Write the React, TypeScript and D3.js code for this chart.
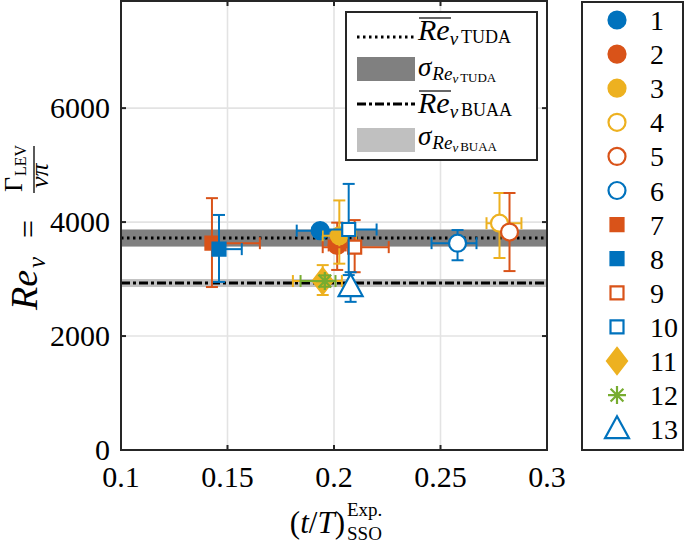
import React from 'react';
import * as d3 from 'd3';

// ---------- data ----------
const seriesLabels = ['1', '2', '3', '4', '5', '6', '7', '8', '9', '10', '11', '12', '13'];
const xVals = [0.1935, 0.2015, 0.2025, 0.2777, 0.2824, 0.258, 0.1427, 0.146, 0.2097, 0.2069, 0.1947, 0.1957, 0.2078];
const yVals = [3850, 3590, 3760, 3980, 3825, 3630, 3630, 3525, 3560, 3870, 2965, 2965, 2860];
const xErrLo = [0.011, 0.004, 0.0078, 0.0061, 0.002, 0.0122, 0.002, 0.002, 0.015, 0.013, 0.014, 0.0114, 0.002];
const xErrHi = [0.011, 0.004, 0.0078, 0.0103, 0.002, 0.0089, 0.0225, 0.0107, 0.016, 0.0131, 0.009, 0.005, 0.002];
const yErrLo = [100, 430, 490, 610, 685, 300, 770, 575, 440, 800, 245, 100, 260];
const yErrHi = [100, 400, 620, 530, 685, 230, 790, 600, 475, 800, 280, 100, 260];
const seriesColors = ['#0072BD', '#D95319', '#EDB120', '#EDB120', '#D95319', '#0072BD', '#D95319', '#0072BD', '#D95319', '#0072BD', '#EDB120', '#77AC30', '#0072BD'];
const seriesShapes = ['o', 'o', 'o', 'o', 'o', 'o', 's', 's', 's', 's', 'd', '*', '^'];
const seriesFilled = [true, true, true, false, false, false, true, true, false, false, true, true, false];

const xTicks = [0.1, 0.15, 0.2, 0.25, 0.3];
const xTickLabels = ['0.1', '0.15', '0.2', '0.25', '0.3'];
const yTicks = [0, 2000, 4000, 6000];
const yTickLabels = ['0', '2000', '4000', '6000'];

const tudaMean = 3720;
const tudaStd = 150;
const buaaMean = 2930;
const buaaStd = 70;

// ---------- layout ----------
const W = 685;
const H = 543;
const x = d3.scaleLinear().domain([0.1, 0.3]).range([121, 547]);
const y = d3.scaleLinear().domain([0, 7880]).range([450, 1]);
const AX = '#262626';
const SERIF = { fontFamily: 'Liberation Serif' };

function markerPath(shape: string): string {
  switch (shape) {
    case 'o':
      return d3.symbol().type(d3.symbolCircle).size(Math.PI * 8.5 * 8.5)()!;
    case 's':
      return 'M-6.5,-6.5H6.5V6.5H-6.5Z';
    case 'd':
      return 'M0,-13L10,0L0,13L-10,0Z';
    case '^':
      return 'M0,-13L12,9L-12,9Z';
    case '*':
      return 'M0,-9V9M-9,0H9M-6.4,-6.4L6.4,6.4M-6.4,6.4L6.4,-6.4';
    default:
      return '';
  }
}

function Marker({ i, cx, cy }: { i: number; cx: number; cy: number }) {
  const c = seriesColors[i];
  const shape = seriesShapes[i];
  const fill = shape === '*' ? 'none' : seriesFilled[i] ? c : '#fff';
  return (
    <path
      d={markerPath(shape)}
      transform={`translate(${cx},${cy})`}
      fill={fill}
      stroke={c}
      strokeWidth={2.2}
      strokeLinejoin="miter"
    />
  );
}

function ErrorBar({ i }: { i: number }) {
  const c = seriesColors[i];
  const cx = x(xVals[i]);
  const cy = y(yVals[i]);
  const y0 = y(yVals[i] - yErrLo[i]);
  const y1 = y(yVals[i] + yErrHi[i]);
  const x0 = x(xVals[i] - xErrLo[i]);
  const x1 = x(xVals[i] + xErrHi[i]);
  const cap = 6;
  return (
    <g stroke={c} strokeWidth={2} fill="none">
      <line x1={cx} x2={cx} y1={y0} y2={y1} />
      <line x1={cx - cap} x2={cx + cap} y1={y0} y2={y0} />
      <line x1={cx - cap} x2={cx + cap} y1={y1} y2={y1} />
      <line x1={x0} x2={x1} y1={cy} y2={cy} />
      <line x1={x0} x2={x0} y1={cy - cap} y2={cy + cap} />
      <line x1={x1} x2={x1} y1={cy - cap} y2={cy + cap} />
    </g>
  );
}

function MeanLabel({ by, tag }: { by: number; tag: string }) {
  return (
    <g>
      <line x1={419} x2={451} y1={by - 22} y2={by - 22} stroke="#000" strokeWidth={1.2} />
      <text x={418} y={by} fill="#000">
        <tspan fontSize={30} fontStyle="italic">Re</tspan>
        <tspan fontSize={19} fontStyle="italic" dy={5}>v</tspan>
        <tspan fontSize={18} dx={3} dy={-2}>{tag}</tspan>
      </text>
    </g>
  );
}

function SigmaLabel({ by, tag }: { by: number; tag: string }) {
  return (
    <text x={418} y={by} fill="#000">
      <tspan fontSize={27} fontStyle="italic">σ</tspan>
      <tspan fontSize={19} fontStyle="italic" dx={1} dy={4}>Re</tspan>
      <tspan fontSize={13} fontStyle="italic" dy={3}>v</tspan>
      <tspan fontSize={13} dx={2} dy={-1}>{tag}</tspan>
    </text>
  );
}

export default function App() {
  const [xl, xr] = x.range();
  const [yb, yt] = y.range();
  const dotDash = '2.5,3.5';
  const dashDot = '9,3,3,3';
  return (
    <svg
      width={W}
      height={H}
      viewBox={`0 0 ${W} ${H}`}
      style={{ position: 'absolute', left: 0, top: 0, display: 'block', background: '#fff' }}
    >
      <rect x={0} y={0} width={W} height={H} fill="#fff" />
      {/* grid */}
      <g stroke="#e3e3e3" strokeWidth={1.6}>
        {xTicks.slice(1, -1).map((t) => (
          <line key={'gx' + t} x1={x(t)} x2={x(t)} y1={yb} y2={yt} />
        ))}
        {yTicks.slice(1).map((t) => (
          <line key={'gy' + t} x1={xl} x2={xr} y1={y(t)} y2={y(t)} />
        ))}
      </g>
      {/* bands */}
      <rect x={xl} width={xr - xl} y={y(tudaMean + tudaStd)} height={y(tudaMean - tudaStd) - y(tudaMean + tudaStd)} fill="#808080" />
      <rect x={xl} width={xr - xl} y={y(buaaMean + buaaStd)} height={y(buaaMean - buaaStd) - y(buaaMean + buaaStd)} fill="#c0c0c0" />
      <line x1={xl} x2={xr} y1={y(tudaMean)} y2={y(tudaMean)} stroke="#000" strokeWidth={3} strokeDasharray={dotDash} />
      <line x1={xl} x2={xr} y1={y(buaaMean)} y2={y(buaaMean)} stroke="#000" strokeWidth={3} strokeDasharray={dashDot} />
      {/* data */}
      {seriesLabels.map((_, i) => (
        <g key={'s' + i}>
          <ErrorBar i={i} />
          <Marker i={i} cx={x(xVals[i])} cy={y(yVals[i])} />
        </g>
      ))}
      {/* axes box & ticks */}
      <g stroke={AX} strokeWidth={2} fill="none">
        <rect x={xl} y={yt} width={xr - xl} height={yb - yt} />
        {xTicks.map((t) => (
          <g key={'tx' + t}>
            <line x1={x(t)} x2={x(t)} y1={yb} y2={yb - 5} />
            <line x1={x(t)} x2={x(t)} y1={yt} y2={yt + 5} />
          </g>
        ))}
        {yTicks.map((t) => (
          <g key={'ty' + t}>
            <line x1={xl} x2={xl + 5} y1={y(t)} y2={y(t)} />
            <line x1={xr} x2={xr - 5} y1={y(t)} y2={y(t)} />
          </g>
        ))}
      </g>
      <g fontSize={30} fill="#000" style={SERIF}>
        {xTicks.map((t, k) => (
          <text key={'lx' + t} x={x(t)} y={487} textAnchor="middle">
            {xTickLabels[k]}
          </text>
        ))}
        {yTicks.map((t, k) => (
          <text key={'ly' + t} x={110} y={y(t) + 10} textAnchor="end">
            {yTickLabels[k]}
          </text>
        ))}
      </g>
      {/* x label */}
      <g fill="#000" style={SERIF}>
        <text x={345} y={533} fontSize={31} textAnchor="end">
          (<tspan fontStyle="italic">t</tspan>/<tspan fontStyle="italic">T</tspan>)
        </text>
        <text x={347} y={516} fontSize={19}>Exp.</text>
        <text x={347} y={540} fontSize={19}>SSO</text>
      </g>
      {/* y label (rotated) */}
      <g transform="translate(3,0) rotate(-90)" fill="#000" style={SERIF}>
        <text x={-310} y={34} fontSize={38} fontStyle="italic">Re</text>
        <text x={-268} y={42} fontSize={25} fontStyle="italic">v</text>
        <text x={-238} y={36} fontSize={32}>=</text>
        <text x={-192} y={19} fontSize={26}>Γ</text>
        <text x={-176} y={23} fontSize={16}>LEV</text>
        <line x1={-193} x2={-146} y1={31} y2={31} stroke="#000" strokeWidth={1.3} />
        <text x={-188} y={45} fontSize={26} fontStyle="italic">νπ</text>
      </g>
      {/* legend 1 */}
      <g style={SERIF}>
        <rect x={346} y={12} width={191} height={148} fill="#fff" stroke={AX} strokeWidth={2} />
        <line x1={357} x2={415} y1={37} y2={37} stroke="#000" strokeWidth={3} strokeDasharray={dotDash} />
        <rect x={357} y={57} width={58} height={24} fill="#808080" />
        <line x1={357} x2={415} y1={104} y2={104} stroke="#000" strokeWidth={3} strokeDasharray={dashDot} />
        <rect x={357} y={128} width={58} height={24} fill="#c0c0c0" />
        <MeanLabel by={40} tag="TUDA" />
        <SigmaLabel by={76} tag="TUDA" />
        <MeanLabel by={113} tag="BUAA" />
        <SigmaLabel by={145} tag="BUAA" />
      </g>
      {/* legend 2 */}
      <g style={SERIF}>
        <rect x={582} y={2} width={101} height={448} fill="#fff" stroke={AX} strokeWidth={2} />
        {seriesLabels.map((lab, i) => {
          const ry = 20 + i * 34.1;
          return (
            <g key={'lg' + i}>
              <Marker i={i} cx={617} cy={ry} />
              <text x={650} y={ry + 10} fontSize={28} fill="#000">
                {lab}
              </text>
            </g>
          );
        })}
      </g>
    </svg>
  );
}
